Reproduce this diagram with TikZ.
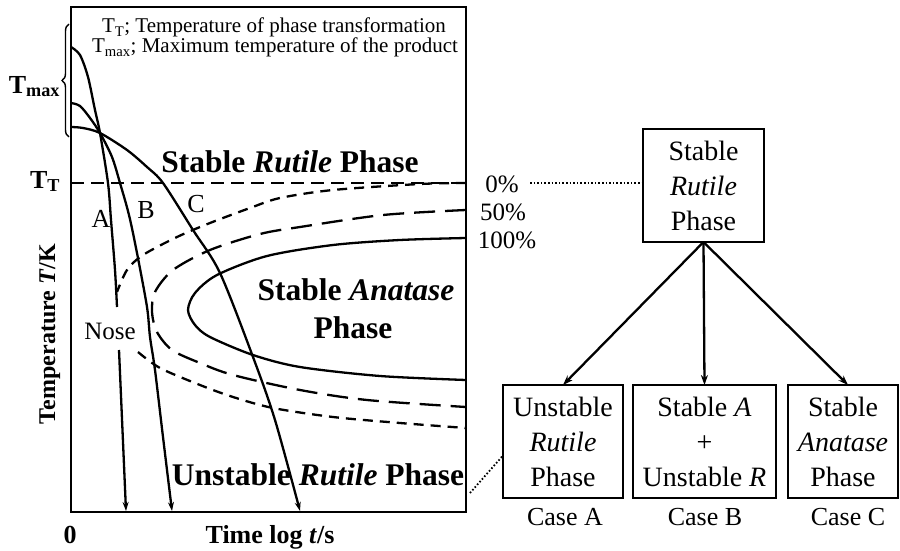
\documentclass[tikz,border=0pt]{standalone}
\usepackage{fontspec}
\setmainfont{Liberation Serif}
\usetikzlibrary{arrows.meta,decorations.pathreplacing}
\newcommand\myfs[1]{\fontsize{#1}{#1}\selectfont}
\begin{document}
\begin{tikzpicture}[x=1pt,y=-1pt,
  every node/.style={inner sep=0pt,outer sep=0pt},
  frame/.style={line width=2.6pt},
  crv/.style={line width=2.3pt},
  tip/.style={-{Stealth[length=9pt,width=6pt]}},
  ttline/.style={line width=2.6pt,dash pattern=on 13pt off 7pt},
  zeroline/.style={line width=2.3pt,dash pattern=on 10pt off 7pt},
  halfline/.style={line width=2.3pt,dash pattern=on 21pt off 10pt},
  dotline/.style={line width=1.8pt,dash pattern=on 1.6pt off 2pt},
  legend/.style={font=\myfs{21}},
  bigbold/.style={font=\myfs{31.5}\bfseries},
  axlab/.style={font=\myfs{26}\bfseries},
  curvelab/.style={font=\myfs{26}},
  pct/.style={font=\myfs{25}},
  phasebox/.style={draw,line width=2.5pt,align=center,font=\fontsize{28}{35}\selectfont},
  caselab/.style={font=\myfs{26}},
  tree/.style={line width=2.3pt,-{Stealth[length=10pt,width=7pt]}}
]
\useasboundingbox (0,0) rectangle (900,551);
% frame
\draw[frame] (71,7) rectangle (466,512);
% legend
\node[legend,anchor=base] (leg1) at (274,33) {T\textsubscript{T}; Temperature of phase transformation};
\node[legend,anchor=base] (leg2) at (275,53) {T\textsubscript{max}; Maximum temperature of the product};
% Tmax brace and label
\draw[line width=1.4pt,decorate,decoration={brace,amplitude=7pt}] (69,137) -- (69,24);
\node[axlab,anchor=base east] (tmax) at (60,93) {T\textsubscript{max}};
% T_T
\node[axlab,anchor=base east] (tt) at (60,188) {T\textsubscript{T}};
\draw[ttline] (71,183) -- (466,183);
% axis labels
\node[axlab,anchor=base] (zero) at (70,543) {0};
\node[axlab,anchor=base] (time) at (270,543) {Time log \textit{t}/s};
\node[font=\myfs{24}\bfseries,anchor=base,rotate=90] (temp) at (55,334) {Temperature \textit{T}/K};
% transformation curves
\draw[zeroline] plot[smooth] coordinates {(466,183) (420,184) (333,190) (280,198) (250,208) (210,223) (177,237) (143,255) (127,270) (117,292)};
\draw[zeroline] plot[smooth] coordinates {(138,352) (160,368) (200,385) (233,397) (273,408) (333,417) (400,423) (466,428)};
\draw[halfline] plot[smooth] coordinates {(466,210) (383,215) (300,227) (260,234) (210,250) (173,270) (155,292) (152,312) (157,332) (172,350) (200,363) (233,375) (300,390) (367,400) (466,407)};
\draw[crv] plot[smooth] coordinates {(466,238) (400,240) (333,245) (267,256) (217,275) (195,293) (188,310) (195,325) (210,337) (253,355) (300,367) (380,376) (466,380)};
% cooling curves
\coordinate (aE) at (126,511);
\coordinate (bE) at (172,511);
\coordinate (cE) at (300,511);
\draw[crv] plot[smooth] coordinates {(71,47) (80,55) (88,77) (95,110) (100,133) (108,183) (111,220) (115,270) (117,307)};
\draw[crv,tip] (119,350) -- (aE);
\draw[crv,tip] plot[smooth] coordinates {(71,103) (80,106) (90,118) (100,133) (112,157) (120,183) (129,215) (137,253) (147,307) (150,337) (155,370) (163,437) (bE)};
\draw[crv,tip] plot[smooth] coordinates {(71,127) (83,128) (100,133) (127,150) (147,167) (163,183) (193,230) (220,273) (253,357) (275,420) (cE)};
% labels in plot
\node[curvelab,anchor=base] (la) at (101,227) {A};
\node[curvelab,anchor=base] (lb) at (146,218) {B};
\node[curvelab,anchor=base] (lc) at (196,212) {C};
\node[font=\myfs{25},anchor=base] (nose) at (110,339) {Nose};
\node[bigbold,anchor=base] (srp) at (290,172) {Stable \textit{Rutile} Phase};
\node[bigbold,anchor=base] (sap1) at (356,300) {Stable \textit{Anatase}};
\node[bigbold,anchor=base] (sap2) at (353,338) {Phase};
\node[bigbold,anchor=base] (urp) at (318,485) {Unstable \textit{Rutile} Phase};
% percent labels
\node[pct,anchor=base] (p0) at (502,192) {0\%};
\node[pct,anchor=base] (p50) at (503,220) {50\%};
\node[pct,anchor=base] (p100) at (507,248) {100\%};
% boxes
\node[phasebox,minimum width=121pt,minimum height=113pt] (top) at (703.5,185.5) {Stable\\\textit{Rutile}\\Phase};
\node[phasebox,minimum width=120pt,minimum height=113pt] (bA) at (563,441.5) {Unstable\\\textit{Rutile}\\Phase};
\node[phasebox,minimum width=143pt,minimum height=113pt] (bB) at (704.5,441.5) {Stable \textit{A}\\+\\Unstable \textit{R}};
\node[phasebox,minimum width=110pt,minimum height=113pt] (bC) at (843,441.5) {Stable\\\textit{Anatase}\\Phase};
\node[caselab,anchor=base] (cA) at (565,525) {Case A};
\node[caselab,anchor=base] (cB) at (705,525) {Case B};
\node[caselab,anchor=base] (cC) at (848,525) {Case C};
% tree arrows
\coordinate (tB) at (703.5,242);
\draw[tree] (tB) -- (bA.north);
\draw[tree] (tB) -- (bB.north);
\draw[tree] (tB) -- ([xshift=5pt]bC.north);
% dotted links
\coordinate (d0) at (530,183);
\draw[dotline] (d0) -- (d0 -| top.west);
\coordinate (dA) at (470,493);
\draw[dotline] (dA) -- ([yshift=-14pt]bA.west);
\end{tikzpicture}
\end{document}
